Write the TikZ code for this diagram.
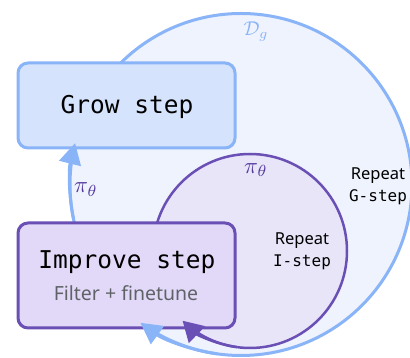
\documentclass[tikz,border=0pt]{standalone}
\usepackage{fontspec}
\setmainfont{Noto Sans}
\setsansfont{Noto Sans}
\setmonofont{DejaVu Sans Mono}
\usetikzlibrary{arrows.meta}
\definecolor{bluestroke}{HTML}{8AB4F8}
\definecolor{bigfill}{HTML}{EEF3FD}
\definecolor{growfill}{HTML}{D5E3FC}
\definecolor{purplestroke}{HTML}{6A4FB5}
\definecolor{smallfill}{HTML}{E8E5F9}
\definecolor{improvefill}{HTML}{E2D8F8}
\definecolor{graytext}{HTML}{5F6368}
\definecolor{pitext}{HTML}{553A9E}
\tikzset{
  bigcirc/.style={circle, draw=bluestroke, fill=bigfill, line width=3pt, minimum size=342pt, inner sep=0pt},
  smallcirc/.style={circle, draw=purplestroke, fill=smallfill, line width=2.5pt, minimum size=194pt, inner sep=0pt},
  growbox/.style={draw=bluestroke, fill=growfill, line width=3pt, rounded corners=10pt, minimum width=217pt, minimum height=85pt, inner sep=0pt},
  improvebox/.style={draw=purplestroke, fill=improvefill, line width=3pt, rounded corners=10pt, minimum width=217pt, minimum height=105pt, inner sep=0pt},
  bluearrow/.style={draw=bluestroke, line width=3pt, -{Triangle[length=21pt,width=22pt]}, bluestroke},
  purplearrow/.style={draw=purplestroke, line width=2.5pt, -{Triangle[length=20pt,width=23pt]}, purplestroke},
  bigmono/.style={font=\fontsize{24.5}{28}\selectfont\ttfamily, text=black, inner sep=0pt},
  repeattxt/.style={font=\fontsize{16.5}{18}\selectfont, text=black, inner sep=0pt},
  repeatmono/.style={font=\fontsize{16}{18}\selectfont\ttfamily, text=black, inner sep=0pt},
  pilbl/.style={font=\normalsize, inner sep=0pt, transform shape, scale=2.3, text=pitext},
  dlbl/.style={font=\normalsize, inner sep=0pt, transform shape, scale=2.0, text=bluestroke},
}
\begin{document}
\begin{tikzpicture}[x=1pt,y=1pt]
\useasboundingbox (0,0) rectangle (410,358);
\node[bigcirc] (G) at (241,173.5) {};
\node[smallcirc] (I) at (250,107) {};
\node[growbox] (grow) at (126.5,252.5) {};
\node[improvebox] (improve) at (126.5,82.5) {};
% arrows
\draw[bluearrow] ([shift={(192:171pt)}]G.center) arc[start angle=192, end angle=166, radius=171pt];
\draw[bluearrow] ([shift={(262:171pt)}]G.center) arc[start angle=262, end angle=234, radius=171pt];
\draw[purplearrow] ([shift={(262:97pt)}]I.center) arc[start angle=262, end angle=226, radius=97pt];
% texts
\node[bigmono] (growtxt) at (127,251) {Grow step};
\node[bigmono] (imptxt) at (127,96) {Improve step};
\node[font=\fontsize{19.5}{22}\selectfont, text=graytext, inner sep=0pt] (filt) at (126,65) {Filter + finetune};
\node[repeattxt] (ri) at (302,117) {Repeat};
\node[repeatmono] (ris) at (302,96) {I-step};
\node[repeattxt] (rg) at (378,182) {Repeat};
\node[repeatmono] (rgs) at (378,161) {G-step};
\node[pilbl] (pil) at (86,168.5) {$\pi_\theta$};
\node[pilbl] (pit) at (256,188) {$\pi_\theta$};
\node[dlbl] (dg) at (256,326) {$\mathcal{D}_g$};
\end{tikzpicture}
\end{document}
